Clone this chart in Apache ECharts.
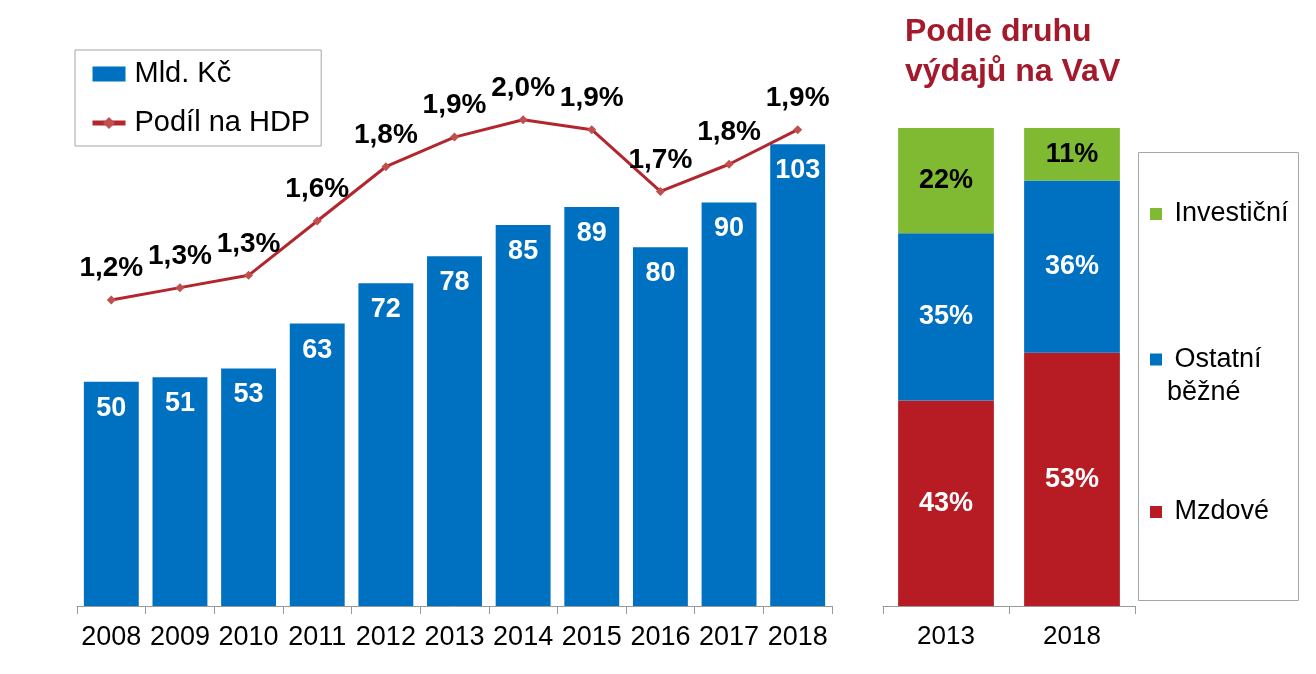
<!DOCTYPE html>
<html>
<head>
<meta charset="utf-8">
<script src="https://cdn.jsdelivr.net/npm/echarts@6/dist/echarts.min.js"></script>
<style>
html,body{margin:0;padding:0;background:#fff;}
#chart{width:1316px;height:674px;}
</style>
</head>
<body>
<div id="chart"></div>
<script>
// ---- data ----
const years = ['2008','2009','2010','2011','2012','2013','2014','2015','2016','2017','2018'];
const mldKc = [50, 51, 53, 63, 72, 78, 85, 89, 80, 90, 103];
const podilHdp = [1.24, 1.29, 1.34, 1.56, 1.78, 1.90, 1.97, 1.93, 1.68, 1.79, 1.93];
const structYears = ['2013', '2018'];
const mzdove = [43, 53];
const ostatni = [35, 36];
const investicni = [22, 11];

const FONT = '"Liberation Sans", Arial, sans-serif';
const BLUE = '#0070C0', RED = '#B71C24', GREEN = '#7FBA32', LINE = '#B3262E';
const pct = v => v.toFixed(1).replace('.', ',') + '%';

const chart = echarts.init(document.getElementById('chart'));
chart.setOption({
  animation: false,
  textStyle: { fontFamily: FONT },
  title: {
    text: 'Podle druhu\nvýdajů na VaV',
    left: 905, top: 12, padding: 0,
    textStyle: { fontFamily: FONT, fontSize: 32, fontWeight: 'bold', color: '#A31A2C', lineHeight: 40 }
  },
  legend: [
    {
      data: [
        { name: 'Mld. Kč', icon: 'rect' },
        { name: 'Podíl na HDP', lineStyle: { width: 5, color: LINE }, itemStyle: { color: '#C0504D' } }
      ],
      orient: 'vertical', left: 75, top: 50,
      padding: [7, 11, 6, 15],
      borderColor: '#A6A6A6', borderWidth: 1,
      itemWidth: 33, itemHeight: 15, itemGap: 15,
      selectedMode: false,
      textStyle: { fontFamily: FONT, fontSize: 29, color: '#000', lineHeight: 34, padding: [0, 0, 0, 4] }
    },
    {
      data: ['Investiční'], orient: 'vertical', left: 1150, top: 197.5, padding: 0,
      itemWidth: 12, itemHeight: 12, selectedMode: false, icon: 'rect',
      formatter: n => ' ' + n,
      textStyle: { fontFamily: FONT, fontSize: 27, color: '#000', lineHeight: 33 }
    },
    {
      data: ['Ostatní\nběžné'], orient: 'vertical', left: 1150, top: 310, padding: 0,
      itemWidth: 12, itemHeight: 12, selectedMode: false, icon: 'rect',
      formatter: n => '\n ' + n,
      textStyle: { fontFamily: FONT, fontSize: 27, color: '#000', lineHeight: 33 }
    },
    {
      data: ['Mzdové'], orient: 'vertical', left: 1150, top: 495.5, padding: 0,
      itemWidth: 12, itemHeight: 12, selectedMode: false, icon: 'rect',
      formatter: n => ' ' + n,
      textStyle: { fontFamily: FONT, fontSize: 27, color: '#000', lineHeight: 33 }
    }
  ],
  graphic: [
    { type: 'rect', shape: { x: 1138.5, y: 152.5, width: 160, height: 448 },
      style: { fill: 'none', stroke: '#A6A6A6', lineWidth: 1 }, z: -1 }
  ],
  grid: [
    { left: 77, width: 755, top: 68, height: 538 },
    { left: 883, width: 252, top: 128, height: 478 }
  ],
  xAxis: [
    {
      type: 'category', gridIndex: 0, data: years,
      axisLine: { lineStyle: { color: '#999', width: 1 } },
      axisTick: { show: true, length: 8, lineStyle: { color: '#999' } },
      axisLabel: { interval: 0, margin: 18, fontSize: 27, color: '#000', fontFamily: FONT }
    },
    {
      type: 'category', gridIndex: 1, data: structYears,
      axisLine: { lineStyle: { color: '#999', width: 1 } },
      axisTick: { show: true, length: 8, lineStyle: { color: '#999' } },
      axisLabel: { interval: 0, margin: 18, fontSize: 26, color: '#000', fontFamily: FONT }
    }
  ],
  yAxis: [
    { type: 'value', gridIndex: 0, min: 0, max: 120, show: false, splitLine: { show: false } },
    { type: 'value', gridIndex: 0, min: 0, max: 2.18, show: false, splitLine: { show: false } },
    { type: 'value', gridIndex: 1, min: 0, max: 100, show: false, splitLine: { show: false } }
  ],
  series: [
    {
      name: 'Mld. Kč', type: 'bar', xAxisIndex: 0, yAxisIndex: 0,
      data: mldKc, barCategoryGap: '20%',
      itemStyle: { color: BLUE },
      label: { show: true, position: 'insideTop', distance: 13, color: '#fff',
               fontSize: 27, fontWeight: 'bold', fontFamily: FONT }
    },
    {
      name: 'Podíl na HDP', type: 'line', xAxisIndex: 0, yAxisIndex: 1,
      data: podilHdp,
      lineStyle: { color: LINE, width: 3 },
      itemStyle: { color: '#C0504D' },
      symbol: 'diamond', symbolSize: 9,
      label: { show: true, position: 'top', distance: 13, color: '#000',
               fontSize: 28, fontWeight: 'bold', fontFamily: FONT,
               formatter: p => pct(p.value) }
    },
    {
      name: 'Mzdové', type: 'bar', stack: 's', xAxisIndex: 1, yAxisIndex: 2,
      data: mzdove, barCategoryGap: '24%',
      itemStyle: { color: RED },
      label: { show: true, position: 'inside', color: '#fff', fontSize: 27, fontWeight: 'bold',
               fontFamily: FONT, formatter: p => p.value + '%' }
    },
    {
      name: 'Ostatní\nběžné', type: 'bar', stack: 's', xAxisIndex: 1, yAxisIndex: 2,
      data: ostatni, barCategoryGap: '24%',
      itemStyle: { color: BLUE },
      label: { show: true, position: 'inside', color: '#fff', fontSize: 27, fontWeight: 'bold',
               fontFamily: FONT, formatter: p => p.value + '%' }
    },
    {
      name: 'Investiční', type: 'bar', stack: 's', xAxisIndex: 1, yAxisIndex: 2,
      data: investicni, barCategoryGap: '24%',
      itemStyle: { color: GREEN },
      label: { show: true, position: 'inside', color: '#000', fontSize: 27, fontWeight: 'bold',
               fontFamily: FONT, formatter: p => p.value + '%' }
    }
  ]
});
</script>
</body>
</html>
